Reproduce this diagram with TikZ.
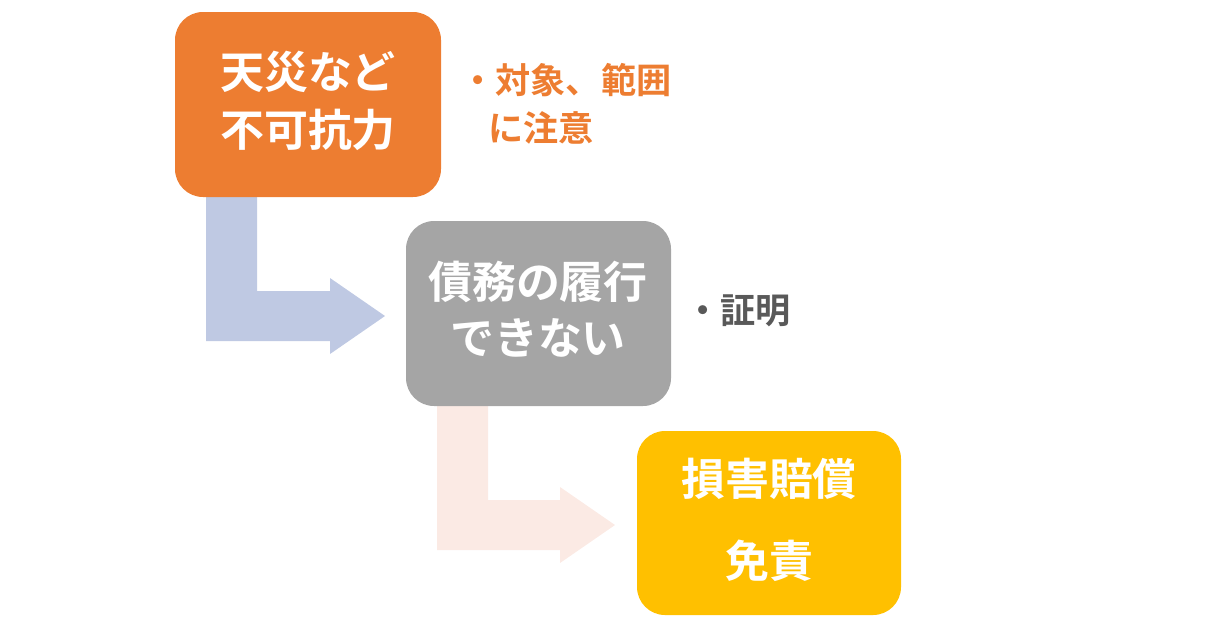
\documentclass[tikz,border=0pt]{standalone}
\usepackage{fontspec}
\newfontfamily\cjk{Noto Sans CJK JP}[BoldFont={Noto Sans CJK JP Bold}]
\definecolor{orng}{HTML}{ED7D31}
\definecolor{gry}{HTML}{A5A5A5}
\definecolor{ylw}{HTML}{FFC000}
\definecolor{blu}{HTML}{BFC9E3}
\definecolor{pch}{HTML}{FBEAE4}
\definecolor{dgry}{HTML}{595959}
\begin{document}
\begin{tikzpicture}[x=0.01cm,y=-0.01cm,
 box/.style={rounded corners=0.28cm,inner sep=0},
 bt/.style={font=\cjk\bfseries\fontsize{12.5}{15}\selectfont,text=white,anchor=center},
 side/.style={font=\cjk\bfseries\fontsize{10}{12}\selectfont,anchor=west}]
\useasboundingbox (0,0) rectangle (1228,624);
\fill[blu] (206,197) -- (257,197) -- (257,291) -- (330,291) -- (330,278) -- (385,316) -- (330,354) -- (330,341) -- (206,341) -- cycle;
\fill[pch] (437,406) -- (488,406) -- (488,500) -- (560,500) -- (560,487) -- (615,525) -- (560,563) -- (560,550) -- (437,550) -- cycle;
\fill[orng,box] (175,12) rectangle (441,197);
\fill[gry,box] (406,221) rectangle (671,406);
\fill[ylw,box] (637,431) rectangle (901,615);
\node[bt] (a1) at (308,72) {天災など};
\node[bt] (a2) at (308,130) {不可抗力};
\node[bt] (b1) at (538,282) {債務の履行};
\node[bt] (b2) at (538,338) {できない};
\node[bt] (c1) at (769,479) {損害賠償};
\node[bt] (c2) at (769,561) {免責};
\node[side,text=orng] (n1) at (448,80) {・対象、範囲};
\node[side,text=orng] (n2) at (476,128) {に注意};
\node[side,text=dgry] (n3) at (673,311) {・証明};
\end{tikzpicture}
\end{document}
